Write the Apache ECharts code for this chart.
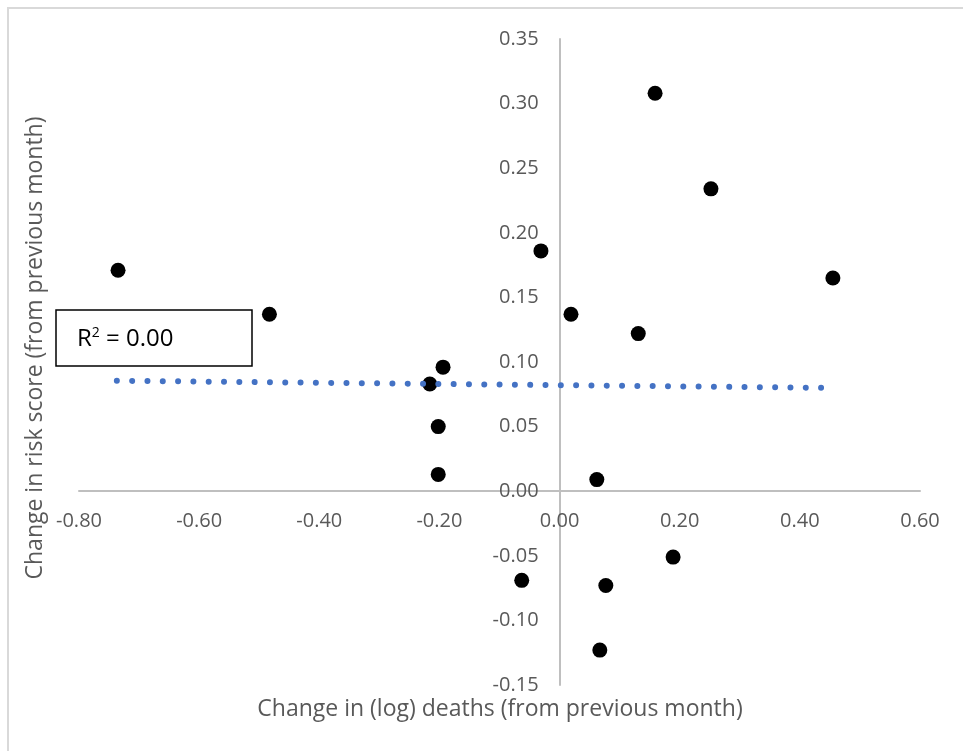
<!DOCTYPE html>
<html>
<head>
<meta charset="utf-8">
<script src="https://cdn.jsdelivr.net/npm/echarts@6/dist/echarts.min.js"></script>
<style>
html,body{margin:0;padding:0;background:#fff;}
#chart{width:963px;height:751px;}
</style>
</head>
<body>
<div id="chart"></div>
<script>
// Scatter points: change in (log) deaths vs change in risk score
const deathsChange = [-0.735, -0.483, -0.216, -0.194, -0.202, -0.202, -0.063, -0.031, 0.019, 0.062, 0.077, 0.067, 0.131, 0.159, 0.189, 0.252, 0.455];
const riskChange   = [0.171, 0.137, 0.083, 0.096, 0.050, 0.013, -0.069, 0.186, 0.137, 0.009, -0.073, -0.123, 0.122, 0.308, -0.051, 0.234, 0.165];
// Linear trendline endpoints
const trendX = [-0.737, 0.445];
const trendY = [0.0855, 0.0800];
const rSquaredText = '0.00';
const xTitle = 'Change in (log) deaths (from previous month)';
const yTitle = 'Change in risk score (from previous month)';

const points = deathsChange.map((x, i) => [x, riskChange[i]]);
const trend = trendX.map((x, i) => [x, trendY[i]]);

const FONT = "'Open Sans', 'Noto Sans', sans-serif";
const GRID = {left: 79, right: 43, top: 39, bottom: 66};
const chart = echarts.init(document.getElementById('chart'), null, {renderer: 'canvas'});
chart.setOption({
  animation: false,
  backgroundColor: '#ffffff',
  grid: {left: GRID.left, right: GRID.right, top: GRID.top, bottom: GRID.bottom, containLabel: false},
  xAxis: {
    type: 'value', min: -0.8, max: 0.6, interval: 0.2, position: 'bottom', offset: 0,
    axisLine: {show: true, onZero: false, lineStyle: {color: '#BFBFBF', width: 2}},
    axisTick: {show: false},
    splitLine: {show: false},
    axisLabel: {color: '#595959', fontSize: 20, fontFamily: FONT, margin: 20,
      formatter: v => v.toFixed(2)}
  },
  yAxis: {
    type: 'value', min: -0.15, max: 0.35, interval: 0.05, position: 'left', offset: 0,
    axisLine: {show: true, onZero: false, lineStyle: {color: '#BFBFBF', width: 2}},
    axisTick: {show: false},
    splitLine: {show: false},
    axisLabel: {color: '#595959', fontSize: 20, fontFamily: FONT, margin: 21,
      formatter: v => v.toFixed(2)}
  },
  series: [
    {
      type: 'scatter', data: points, symbol: 'circle', symbolSize: 15,
      itemStyle: {color: '#000000', opacity: 1}, z: 2
    },
    {
      type: 'line', data: trend, symbol: 'none', z: 3,
      lineStyle: {color: '#4472C4', width: 6, type: [0.01, 15.3], cap: 'round'}
    }
  ],
  graphic: [
    {type: 'rect', shape: {x: 8, y: 8, width: 1000, height: 800},
      style: {fill: null, stroke: '#D9D9D9', lineWidth: 2}, silent: true, z: -10},
    {type: 'rect', shape: {x: 56, y: 310, width: 196, height: 56},
      style: {fill: '#ffffff', stroke: '#000000', lineWidth: 1.5}, z: 10},
    {type: 'text', x: 77, y: 339, z: 11,
      style: {
        text: '{a|R}{s|2}{a| = ' + rSquaredText + '}',
        verticalAlign: 'middle',
        rich: {
          a: {fontSize: 24, fontFamily: FONT, fill: '#000000'},
          s: {fontSize: 14, fontFamily: FONT, fill: '#000000', verticalAlign: 'top', padding: [0, 0, 12, 0]}
        }
      }},
    {type: 'text', x: 500, y: 709, z: 5,
      style: {text: xTitle, fontSize: 23, fontFamily: FONT, fill: '#595959',
        align: 'center', verticalAlign: 'middle'}},
    {type: 'text', x: 35, y: 348, rotation: Math.PI / 2, z: 5,
      style: {text: yTitle, fontSize: 23, fontFamily: FONT, fill: '#595959',
        align: 'center', verticalAlign: 'middle'}}
  ]
});
// Move each axis line (with its labels) onto the other axis's zero, via the library's scales
const zeroX = chart.convertToPixel({xAxisIndex: 0}, 0);
const zeroY = chart.convertToPixel({yAxisIndex: 0}, 0);
chart.setOption({
  yAxis: {offset: GRID.left - zeroX},
  xAxis: {offset: zeroY - (751 - GRID.bottom)}
});
</script>
</body>
</html>
